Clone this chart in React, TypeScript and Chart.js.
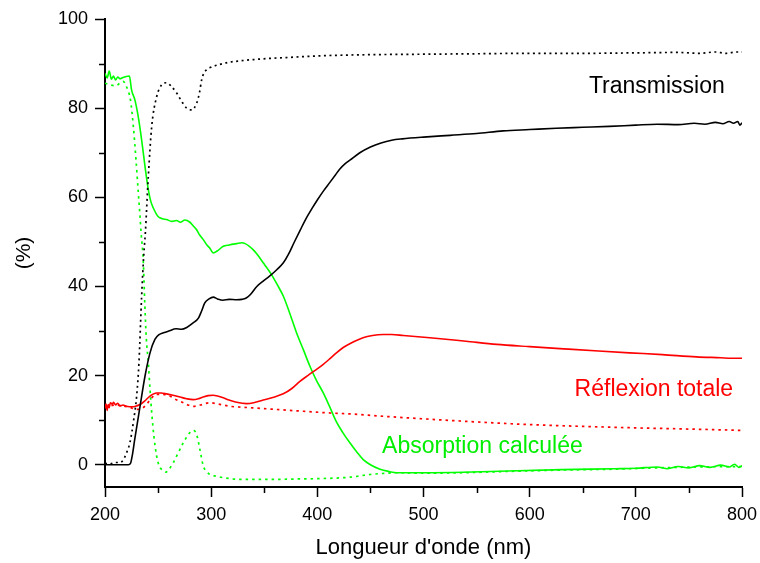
import React, { useEffect, useRef } from "react";
import { Chart, registerables } from "chart.js";
Chart.register(...registerables);

// Transmission (solid black)
const transNm = [200, 222, 224, 226, 228, 233, 237.7, 242.4, 247, 251, 255, 260, 267, 272, 277, 283, 288, 291, 294, 298, 302, 306, 311, 317, 324, 329, 333, 337, 343, 349, 355, 362, 368, 373, 378, 384, 390, 395, 400, 406, 412, 417, 421, 426, 431, 440, 450, 460, 470, 480, 500, 525, 550, 575, 600, 625, 650, 675, 700, 720, 740, 755, 765, 775, 782, 788, 792, 796, 798, 800];
const transVal = [0, 0, 0.3, 2.5, 5.7, 13.1, 19.9, 25.1, 28.1, 29.2, 29.6, 30.0, 30.5, 30.4, 30.8, 31.8, 32.9, 34.5, 36.3, 37.2, 37.6, 37.2, 36.9, 37.1, 37.0, 37.1, 37.4, 38.2, 40.0, 41.2, 42.3, 43.8, 45.3, 47.3, 49.8, 52.7, 55.5, 57.5, 59.4, 61.5, 63.4, 65.0, 66.3, 67.5, 68.4, 70.0, 71.3, 72.2, 72.8, 73.1, 73.5, 73.9, 74.3, 74.9, 75.2, 75.5, 75.7, 75.9, 76.2, 76.4, 76.3, 76.6, 76.4, 76.8, 76.5, 77.0, 76.6, 77.0, 76.2, 76.7];

// Transmission (dotted black)
const transDotNm = [200, 205, 210, 214, 217, 220, 223.5, 227, 229.8, 232, 234.5, 236.5, 238, 240.8, 244, 248.7, 253.3, 258, 262, 267.5, 272, 276.9, 281.6, 286.3, 289, 291, 293, 295.7, 300, 308, 317, 327, 340, 358, 375, 390, 410, 428, 450, 500, 550, 600, 650, 700, 740, 760, 775, 785, 795, 800];
const transDotVal = [0.3, 0.2, 0.5, 0.5, 1.0, 2.5, 5.0, 10, 15.4, 23, 37.8, 47, 52, 64.7, 75.9, 82.6, 85.2, 85.7, 85.0, 83.4, 81.6, 80.0, 79.6, 81.1, 83.5, 86.3, 87.8, 88.6, 89.2, 89.8, 90.3, 90.6, 90.9, 91.2, 91.4, 91.6, 91.8, 91.9, 92.0, 92.1, 92.2, 92.3, 92.3, 92.4, 92.5, 92.3, 92.6, 92.3, 92.6, 92.6];

// Réflexion totale (solid red)
const reflNm = [200, 201, 202, 203, 204, 205, 207, 208, 210, 212, 214, 217, 220, 223, 226.7, 230, 233, 237, 242.4, 248.6, 253, 258, 264, 270.6, 277, 283, 288, 292.6, 297, 302, 306, 311.4, 317, 324, 333.4, 340, 349, 358, 367.9, 376, 383.6, 391, 399.3, 405, 411.9, 418, 424.4, 431, 443, 452, 462, 470, 481, 506, 540, 569, 600, 632, 665, 694, 725, 757, 780, 790, 800];
const reflVal = [12.6, 13.6, 12.2, 13.5, 12.8, 13.9, 13.6, 14.0, 13.4, 13.8, 13.2, 13.4, 13.1, 13.0, 13.0, 13.2, 13.5, 14.2, 15.4, 16.1, 16.1, 15.9, 15.6, 15.2, 14.8, 14.6, 14.8, 15.2, 15.5, 15.6, 15.4, 15.0, 14.5, 14.0, 13.7, 13.9, 14.5, 15.1, 15.9, 17.1, 18.7, 20.0, 21.4, 22.4, 23.8, 25.1, 26.3, 27.2, 28.5, 29.0, 29.2, 29.2, 29.0, 28.5, 27.7, 27.0, 26.5, 26.0, 25.5, 25.1, 24.7, 24.2, 24.0, 23.9, 23.9];

// Réflexion (dotted red)
const reflDotNm = [200, 210, 217, 224, 229.7, 236, 240, 243.9, 248.6, 254, 261, 267, 273.7, 278, 283, 290, 298.6, 305, 317.7, 330, 349, 367, 386.7, 412, 430.7, 460, 506, 550, 600, 650, 694, 750, 800];
const reflDotVal = [13.0, 13.4, 13.2, 12.8, 12.4, 12.8, 13.8, 15.0, 15.8, 15.8, 15.4, 14.6, 13.9, 13.4, 13.1, 13.4, 13.9, 13.7, 13.1, 12.9, 12.6, 12.3, 12.0, 11.6, 11.4, 10.9, 10.2, 9.6, 9.0, 8.6, 8.3, 8.0, 7.7];

// Absorption calculée (solid green)
const absNm = [200, 202, 204, 206, 208, 210, 212, 214, 217, 220, 223, 225, 228.2, 231.3, 234.5, 237.7, 240.8, 243, 245.5, 250, 254, 258, 263, 267.4, 271, 275.2, 280, 283, 286.3, 289, 292.6, 296, 298.6, 302, 306, 311.4, 317, 324, 329, 332, 336, 339.7, 344, 349, 353, 357, 362, 368, 374, 380.4, 387, 393, 399, 405.6, 412, 418, 424, 431, 437, 443, 450, 459, 467, 475, 500, 537, 580, 630, 680, 700, 720, 730, 740, 750, 760, 770, 780, 788, 793, 797, 800];
const absVal = [87.8, 86.8, 88.3, 86.5, 87.2, 86.3, 87.0, 86.6, 86.9, 87.1, 87.2, 84.1, 81.8, 78.1, 72.9, 66.9, 61.7, 59.2, 57.6, 55.7, 55.2, 55.0, 54.6, 54.8, 54.4, 54.9, 54.4, 53.6, 52.7, 51.6, 50.5, 49.3, 48.6, 47.5, 48.0, 49.0, 49.3, 49.6, 49.8, 49.6, 49.0, 48.2, 47.0, 45.3, 44.0, 42.6, 40.5, 37.8, 34.0, 29.6, 25.7, 22.1, 19.0, 16.1, 12.8, 9.6, 7.2, 4.8, 2.9, 1.2, 0.0, -1.0, -1.5, -1.8, -1.8, -1.7, -1.4, -1.1, -0.9, -0.8, -0.5, -0.9, -0.4, -0.7, -0.2, -0.6, -0.1, -0.5, 0.1, -0.6, -0.2];

// Absorption (dotted green)
const absDotNm = [200, 205, 210, 214, 217, 220.3, 224, 226.7, 229.2, 231.4, 233, 234, 236, 237.5, 239, 240.8, 242.5, 244, 246, 248.7, 251, 253.3, 257.4, 261, 264.3, 268, 273.7, 279.9, 283.2, 286.3, 289.4, 292.6, 296, 298.9, 305, 311.4, 327, 358, 380, 405.6, 430.7, 449.5, 465, 475, 500, 537, 580, 630, 680, 720, 760, 800];
const absDotVal = [85.6, 85.2, 85.0, 85.6, 86.0, 84.8, 81.8, 75.9, 68.4, 60.9, 55.7, 52, 46, 36, 28, 22.9, 16.5, 11.7, 6.5, 1.9, -0.2, -1.05, -1.65, -0.8, 0.45, 2.2, 4.9, 7.2, 7.7, 6.8, 3.4, -0.3, -1.6, -2.2, -2.6, -2.9, -3.3, -3.3, -3.2, -3.1, -2.8, -2.2, -1.9, -1.8, -1.9, -1.8, -1.5, -1.2, -1.0, -0.7, -0.5, -0.4];

const xMinor = [250, 350, 450, 550, 650, 750];
const yMinor = [10, 30, 50, 70, 90];

const labelTexts = ["Transmission", "Réflexion totale", "Absorption calculée"];
const labelNm = [719.8, 717, 555.5];
const labelVal = [83.4, 15.4, 2.7];
const labelColors = ["#000000", "#ff0000", "#00ee00"];

const FONT = "'Liberation Sans', Arial, Helvetica, sans-serif";

const zip = (xs: number[], ys: number[]) => xs.map((x, i) => ({ x, y: ys[i] }));

const minorTicksPlugin = {
  id: "minorTicks",
  afterDraw(chart: any) {
    const { ctx, scales, chartArea } = chart;
    ctx.save();
    ctx.strokeStyle = "#000";
    ctx.lineWidth = 1.5;
    ctx.beginPath();
    xMinor.forEach((v) => {
      const px = Math.round(scales.x.getPixelForValue(v)) + 0.5;
      ctx.moveTo(px, chartArea.bottom);
      ctx.lineTo(px, chartArea.bottom + 6);
    });
    yMinor.forEach((v) => {
      const py = Math.round(scales.y.getPixelForValue(v)) + 0.5;
      ctx.moveTo(chartArea.left, py);
      ctx.lineTo(chartArea.left - 6, py);
    });
    ctx.stroke();
    ctx.restore();
  },
};

const labelsPlugin = {
  id: "seriesLabels",
  afterDatasetsDraw(chart: any) {
    const { ctx, scales } = chart;
    ctx.save();
    ctx.font = `23px ${FONT}`;
    ctx.textAlign = "center";
    ctx.textBaseline = "alphabetic";
    labelTexts.forEach((t, i) => {
      ctx.fillStyle = labelColors[i];
      ctx.fillText(t, scales.x.getPixelForValue(labelNm[i]), scales.y.getPixelForValue(labelVal[i]));
    });
    ctx.restore();
  },
};

export default function App() {
  const ref = useRef<HTMLCanvasElement>(null);
  useEffect(() => {
    if (!ref.current) return;
    const solid = (data: any, color: string) => ({
      data,
      borderColor: color,
      backgroundColor: color,
      borderWidth: 1.6,
      pointRadius: 0,
      fill: false,
      cubicInterpolationMode: "monotone" as const,
    });
    const dotted = (data: any, color: string, dash: number[]) => ({
      ...solid(data, color),
      borderDash: dash,
      borderWidth: 1.7,
    });
    const chart = new Chart(ref.current, {
      type: "line",
      data: {
        datasets: [
          dotted(zip(transDotNm, transDotVal), "#000000", [2, 3.5]),
          solid(zip(transNm, transVal), "#000000"),
          dotted(zip(reflDotNm, reflDotVal), "#ff0000", [2.5, 4]),
          solid(zip(reflNm, reflVal), "#ff0000"),
          dotted(zip(absDotNm, absDotVal), "#00ff00", [2.5, 4]),
          solid(zip(absNm, absVal), "#00ff00"),
        ],
      },
      options: {
        animation: false,
        responsive: false,
        parsing: false as any,
        layout: { padding: { top: 19, right: 18, left: 0, bottom: 0 } },
        plugins: { legend: { display: false }, tooltip: { enabled: false } },
        scales: {
          x: {
            type: "linear",
            min: 200,
            max: 800,
            afterFit: (s: any) => {
              s.height = 76;
              s.paddingLeft = 0;
              s.paddingRight = 0;
            },
            ticks: {
              stepSize: 50,
              autoSkip: false,
              maxRotation: 0,
              padding: 7,
              color: "#000",
              font: { family: FONT, size: 18 },
              callback: (v: any) => (Number(v) % 100 === 0 ? String(v) : ""),
            },
            grid: {
              drawOnChartArea: false,
              drawTicks: true,
              tickLength: 10,
              tickWidth: 1.5,
              tickColor: (c: any) => (c.tick && c.tick.value % 100 === 0 ? "#000" : "rgba(0,0,0,0)"),
            },
            border: { display: true, color: "#000", width: 2 },
            title: {
              display: true,
              text: "Longueur d'onde (nm)",
              color: "#000",
              font: { family: FONT, size: 22 },
              padding: { top: 0, bottom: 2 },
            },
          },
          y: {
            type: "linear",
            min: -5,
            max: 100,
            afterFit: (s: any) => {
              s.width = 105;
              s.paddingTop = 0;
              s.paddingBottom = 0;
            },
            ticks: {
              stepSize: 10,
              autoSkip: false,
              padding: 7,
              color: "#000",
              font: { family: FONT, size: 18 },
              callback: (v: any) => (Number(v) % 20 === 0 ? String(v) : ""),
            },
            grid: {
              drawOnChartArea: false,
              drawTicks: true,
              tickLength: 10,
              tickWidth: 1.5,
              tickColor: (c: any) => (c.tick && c.tick.value % 20 === 0 ? "#000" : "rgba(0,0,0,0)"),
            },
            border: { display: true, color: "#000", width: 2 },
            title: {
              display: true,
              text: "(%)",
              color: "#000",
              font: { family: FONT, size: 21 },
              padding: { top: 12, bottom: 0 },
            },
          },
        },
      },
      plugins: [minorTicksPlugin, labelsPlugin],
    });
    return () => chart.destroy();
  }, []);
  return (
    <div style={{ position: "fixed", left: 0, top: 0, width: 760, height: 563, background: "#fff" }}>
      <canvas ref={ref} width={760} height={563} style={{ display: "block" }} />
    </div>
  );
}
